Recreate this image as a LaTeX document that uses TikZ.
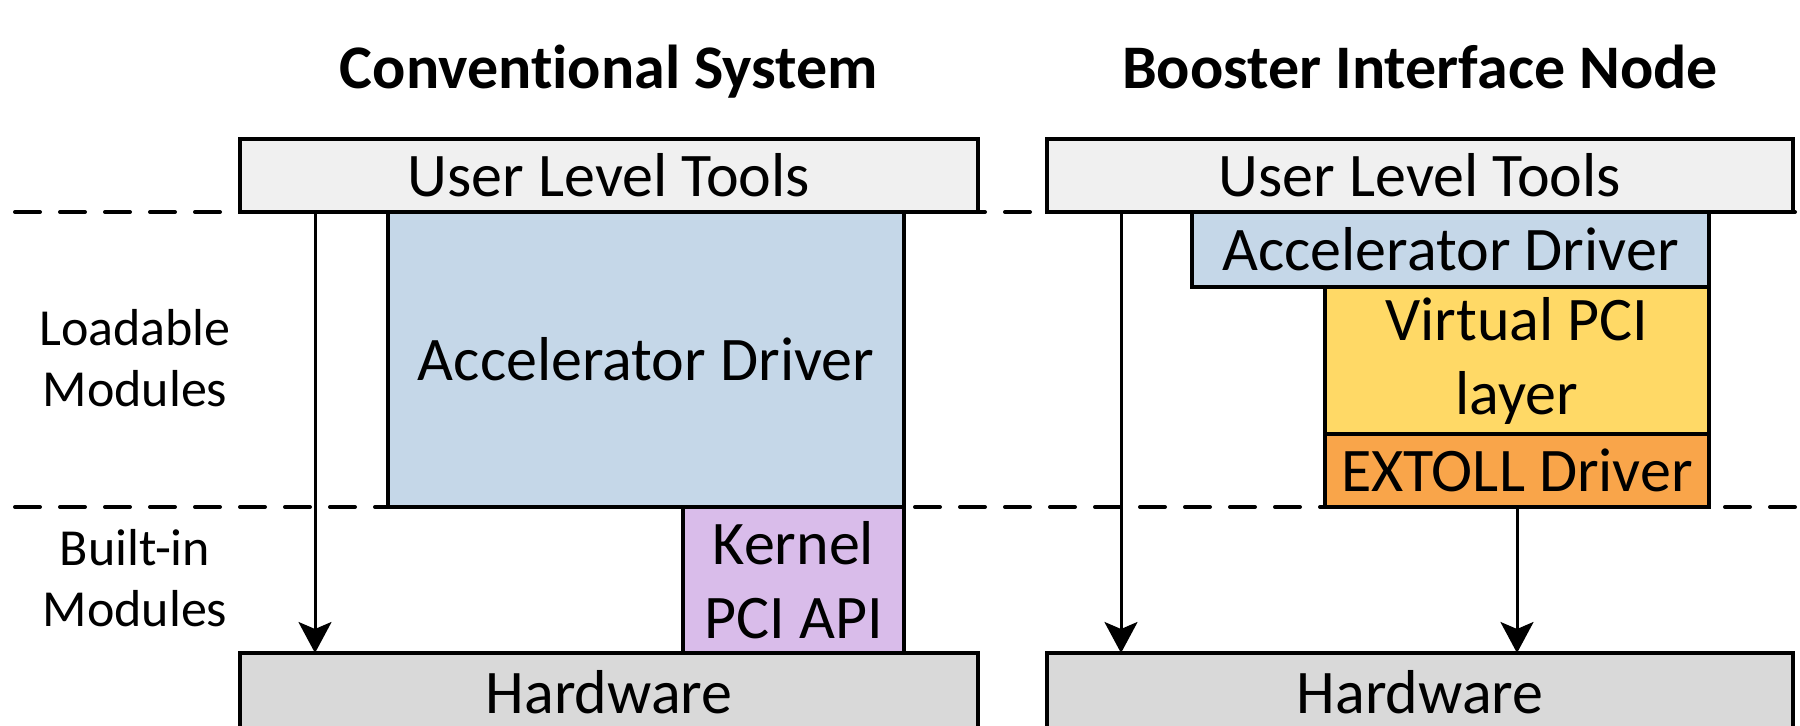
\documentclass[tikz,border=0pt]{standalone}
\usepackage{fontspec}
\setmainfont{Carlito}[Ligatures=NoCommon]
\usetikzlibrary{arrows.meta}
\definecolor{userfill}{HTML}{F0F0F0}
\definecolor{accelfill}{HTML}{C5D7E8}
\definecolor{kernelfill}{HTML}{D9BCEA}
\definecolor{virtfill}{HTML}{FFD966}
\definecolor{extollfill}{HTML}{F9A54A}
\definecolor{hwfill}{HTML}{D9D9D9}
\tikzset{
  layerbox/.style={draw=black, line width=1.6pt, inner sep=0pt, outer sep=0pt,
    anchor=north west, align=center, font=\fontsize{31}{37}\selectfont},
  titletext/.style={anchor=base, font=\fontsize{31}{37}\selectfont\bfseries},
  sidetext/.style={anchor=base, align=center, font=\fontsize{26}{30.5}\selectfont},
  sepline/.style={line width=2pt, dash pattern=on 12.5pt off 10pt, line cap=round},
  flow/.style={line width=1.5pt, -{Stealth[length=15.5pt, width=16.5pt, inset=3.5pt]}}
}
\begin{document}
\begin{tikzpicture}[x=0.5pt, y=-0.5pt]
\clip (0,0) rectangle (1800,725);
\fill[white] (0,0) rectangle (1800,725);

% separator lines
\coordinate (s1a) at (15,212);
\coordinate (s1b) at (1800,212);
\coordinate (s2a) at (15,507);
\coordinate (s2b) at (1800,507);
\draw[sepline] (s1a) -- (s1b);
\draw[sepline] (s2a) -- (s2b);

% titles
\node[titletext] (t1) at (609,88) {Conventional System};
\node[titletext] (t2) at (1420,88) {Booster Interface Node};

% side labels (base = last line baseline)
\node[sidetext] (lm) at (135,406) {Loadable\\Modules};
\node[sidetext] (bm) at (135,626) {Built-in\\Modules};

% conventional system
\node[layerbox, fill=userfill, minimum width=369pt, minimum height=36.5pt] (ul1) at (240,139) {User Level Tools};
\node[layerbox, fill=hwfill, minimum width=369pt, minimum height=39pt] (hw1) at (240,653) {Hardware};
\coordinate (a1) at (315,0);
\draw[flow] (ul1.south -| a1) -- (hw1.north -| a1);
\node[layerbox, fill=accelfill, minimum width=258pt, minimum height=147.5pt] (ad1) at (388,212) {Accelerator Driver};
\node[layerbox, fill=kernelfill, minimum width=110.5pt, minimum height=73pt] (kp) at (683,507) {Kernel\\PCI API};

% booster interface node
\node[layerbox, fill=userfill, minimum width=373pt, minimum height=36.5pt] (ul2) at (1047,139) {User Level Tools};
\node[layerbox, fill=hwfill, minimum width=373pt, minimum height=39pt] (hw2) at (1047,653) {Hardware};
\coordinate (a2) at (1121,0);
\draw[flow] (ul2.south -| a2) -- (hw2.north -| a2);
\node[layerbox, fill=accelfill, minimum width=258.5pt, minimum height=37.5pt] (ad2) at (1192,212) {Accelerator Driver};
\node[layerbox, fill=virtfill, minimum width=192pt, minimum height=73.5pt] (vp) at (1325,287) {Virtual PCI\\layer};
\node[layerbox, fill=extollfill, minimum width=192pt, minimum height=36.5pt] (ex) at (1325,434) {EXTOLL Driver};
\coordinate (a3) at (1517,0);
\draw[flow] (ex.south -| a3) -- (hw2.north -| a3);
\end{tikzpicture}
\end{document}
